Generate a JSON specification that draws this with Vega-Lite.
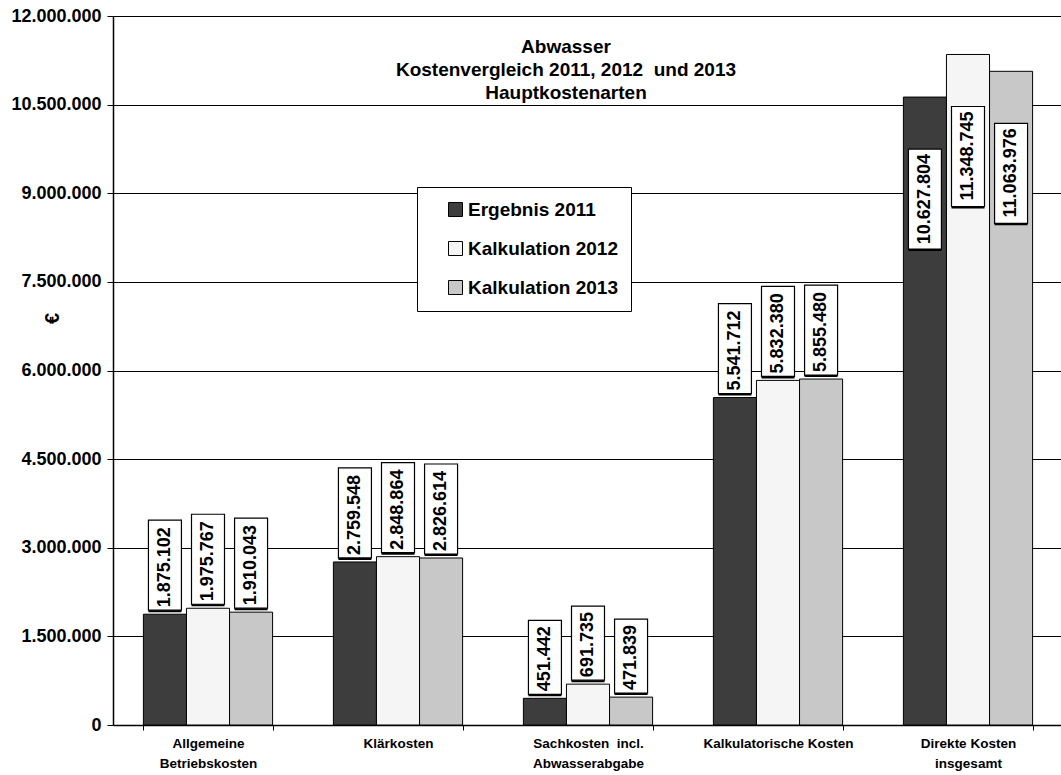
{
  "$schema": "https://vega.github.io/schema/vega-lite/v6.json",
  "width": 950,
  "height": 709,
  "autosize": {"type": "none"},
  "padding": {"left": 113, "top": 16, "right": 0, "bottom": 50},
  "background": "white",
  "config": {
    "locale": {"number": {"decimal": ",", "thousands": ".", "grouping": [3], "currency": ["", " €"]}},
    "font": "Liberation Sans",
    "view": {"stroke": null},
    "axis": {"labelFontWeight": "bold", "labelColor": "black", "domainColor": "black", "tickColor": "black", "titleColor": "black"}
  },
  "title": {
    "text": ["Abwasser", "Kostenvergleich 2011, 2012\u00a0\u00a0und 2013", "Hauptkostenarten"],
    "fontSize": 19, "fontWeight": "bold", "lineHeight": 23, "anchor": "middle",
    "offset": -96, "dx": -22, "color": "black", "font": "Liberation Sans"
  },
  "data": {"values": [
    {"kat": "Allgemeine Betriebskosten", "serie": "Ergebnis 2011", "wert": 1875102},
    {"kat": "Allgemeine Betriebskosten", "serie": "Kalkulation 2012", "wert": 1975767},
    {"kat": "Allgemeine Betriebskosten", "serie": "Kalkulation 2013", "wert": 1910043},
    {"kat": "Klärkosten", "serie": "Ergebnis 2011", "wert": 2759548},
    {"kat": "Klärkosten", "serie": "Kalkulation 2012", "wert": 2848864},
    {"kat": "Klärkosten", "serie": "Kalkulation 2013", "wert": 2826614},
    {"kat": "Sachkosten incl. Abwasserabgabe", "serie": "Ergebnis 2011", "wert": 451442},
    {"kat": "Sachkosten incl. Abwasserabgabe", "serie": "Kalkulation 2012", "wert": 691735},
    {"kat": "Sachkosten incl. Abwasserabgabe", "serie": "Kalkulation 2013", "wert": 471839},
    {"kat": "Kalkulatorische Kosten", "serie": "Ergebnis 2011", "wert": 5541712},
    {"kat": "Kalkulatorische Kosten", "serie": "Kalkulation 2012", "wert": 5832380},
    {"kat": "Kalkulatorische Kosten", "serie": "Kalkulation 2013", "wert": 5855480},
    {"kat": "Direkte Kosten insgesamt", "serie": "Ergebnis 2011", "wert": 10627804},
    {"kat": "Direkte Kosten insgesamt", "serie": "Kalkulation 2012", "wert": 11348745},
    {"kat": "Direkte Kosten insgesamt", "serie": "Kalkulation 2013", "wert": 11063976}
  ]},
  "encoding": {
    "x": {
      "field": "kat", "type": "nominal", "sort": null,
      "scale": {"paddingInner": 0.32, "paddingOuter": 0.16},
      "axis": {
        "title": null, "labelAngle": 0, "tickBand": "extent", "tickSize": 5, "domainWidth": 1.5,
        "labelFontSize": 13.5, "labelLineHeight": 20, "labelPadding": 6, "grid": false,
        "labelExpr": "datum.value == 'Allgemeine Betriebskosten' ? ['Allgemeine','Betriebskosten'] : datum.value == 'Sachkosten incl. Abwasserabgabe' ? ['Sachkosten\u00a0\u00a0incl.','Abwasserabgabe'] : datum.value == 'Direkte Kosten insgesamt' ? ['Direkte Kosten','insgesamt'] : datum.value"
      }
    },
    "xOffset": {"field": "serie", "type": "nominal", "sort": null, "scale": {"paddingInner": 0, "paddingOuter": 0}},
    "y": {
      "field": "wert", "type": "quantitative",
      "scale": {"domain": [0, 12000000], "nice": false},
      "axis": {
        "values": [0, 1500000, 3000000, 4500000, 6000000, 7500000, 9000000, 10500000, 12000000],
        "format": ",d", "labelFontSize": 18, "tickSize": 6, "labelPadding": 6, "domainWidth": 1.5,
        "grid": true, "gridColor": "black", "gridWidth": 1.2,
        "title": "€", "titleFontSize": 20, "titleFontWeight": "bold", "titleX": -51, "titleY": 302, "titleAngle": -90
      }
    }
  },
  "layer": [
    {
      "mark": {"type": "bar", "stroke": "black", "strokeWidth": 1},
      "encoding": {
        "color": {
          "field": "serie", "type": "nominal", "sort": null,
          "scale": {"domain": ["Ergebnis 2011", "Kalkulation 2012", "Kalkulation 2013"], "range": ["#3d3d3d", "#f5f5f5", "#c8c8c8"]},
          "legend": {
            "orient": "none", "legendX": 304, "legendY": 171, "title": null, "padding": 13,
            "symbolOffset": 16, "symbolType": "square", "symbolSize": 196, "symbolStrokeColor": "black",
            "symbolStrokeWidth": 1, "labelFontSize": 19, "labelFontWeight": "bold", "labelColor": "black",
            "rowPadding": 19, "strokeColor": "black", "fillColor": "white", "labelOffset": 3
          }
        }
      }
    },
    {
      "transform": [{"filter": {"field": "kat", "oneOf": ["Allgemeine Betriebskosten", "Klärkosten", "Kalkulatorische Kosten"]}}],
      "layer": [
        {"mark": {"type": "tick", "orient": "vertical", "size": 90, "thickness": 33, "color": "black", "opacity": 1, "yOffset": -47, "xOffset": 2}},
        {"mark": {"type": "tick", "orient": "vertical", "size": 90, "thickness": 33, "color": "white", "opacity": 1, "stroke": "black", "strokeWidth": 1.2, "yOffset": -49}},
        {"mark": {"type": "text", "angle": 270, "align": "left", "baseline": "middle", "yOffset": -7, "fontSize": 18, "fontWeight": "bold", "color": "black"},
         "encoding": {"text": {"field": "wert", "type": "quantitative", "format": ",d"}}}
      ]
    },
    {
      "transform": [{"filter": {"field": "kat", "equal": "Sachkosten incl. Abwasserabgabe"}}],
      "layer": [
        {"mark": {"type": "tick", "orient": "vertical", "size": 74, "thickness": 33, "color": "black", "opacity": 1, "yOffset": -39, "xOffset": 2}},
        {"mark": {"type": "tick", "orient": "vertical", "size": 74, "thickness": 33, "color": "white", "opacity": 1, "stroke": "black", "strokeWidth": 1.2, "yOffset": -41}},
        {"mark": {"type": "text", "angle": 270, "align": "left", "baseline": "middle", "yOffset": -7, "fontSize": 18, "fontWeight": "bold", "color": "black"},
         "encoding": {"text": {"field": "wert", "type": "quantitative", "format": ",d"}}}
      ]
    },
    {
      "transform": [{"filter": {"field": "kat", "equal": "Direkte Kosten insgesamt"}}],
      "layer": [
        {"mark": {"type": "tick", "orient": "vertical", "size": 100, "thickness": 33, "color": "black", "opacity": 1, "yOffset": 104, "xOffset": 2}},
        {"mark": {"type": "tick", "orient": "vertical", "size": 100, "thickness": 33, "color": "white", "opacity": 1, "stroke": "black", "strokeWidth": 1.2, "yOffset": 102}},
        {"mark": {"type": "text", "angle": 270, "align": "right", "baseline": "middle", "yOffset": 57, "fontSize": 18, "fontWeight": "bold", "color": "black"},
         "encoding": {"text": {"field": "wert", "type": "quantitative", "format": ",d"}}}
      ]
    }
  ]
}
